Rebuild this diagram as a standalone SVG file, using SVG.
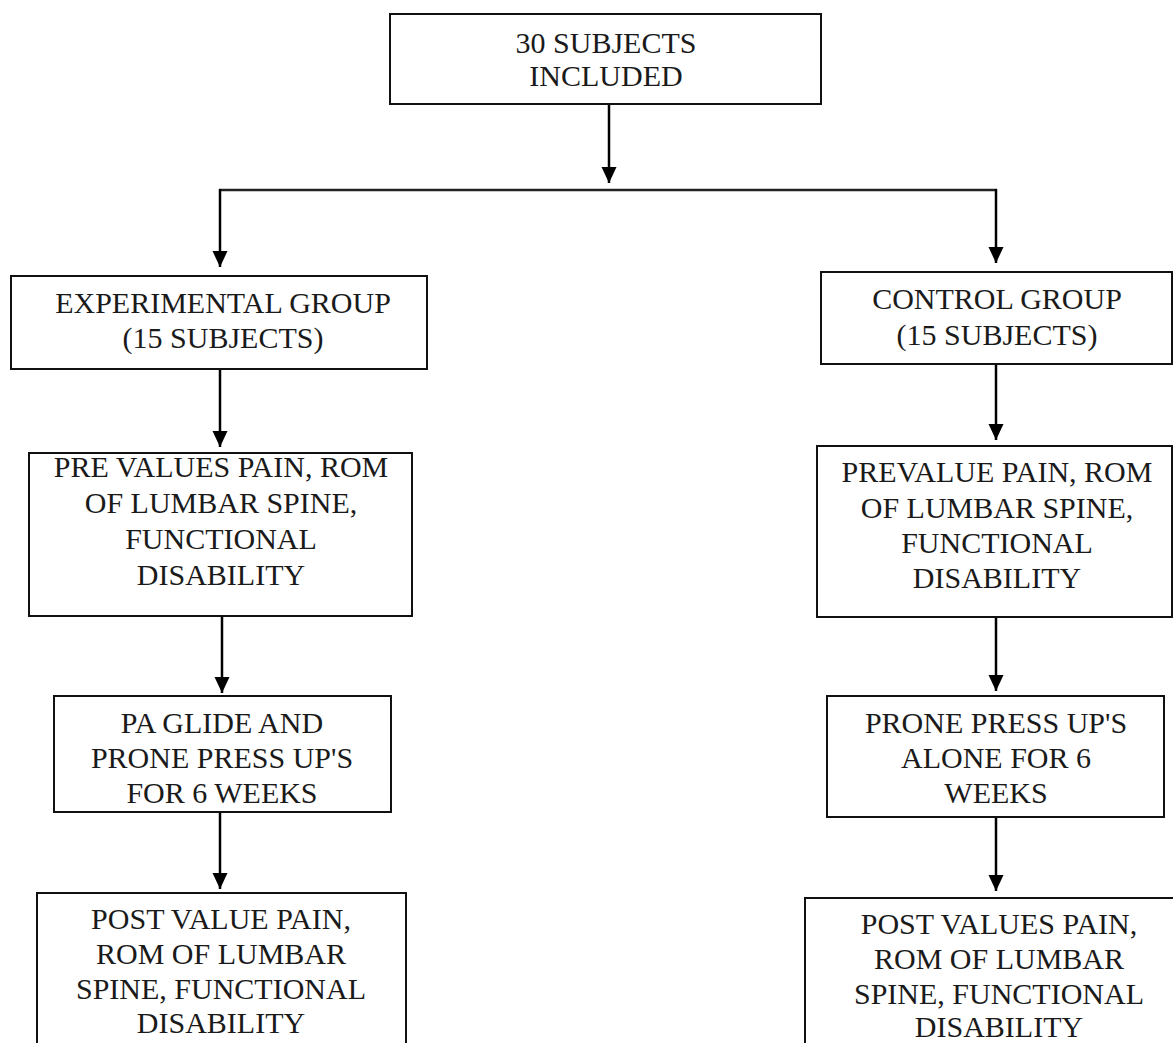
<svg xmlns="http://www.w3.org/2000/svg" width="1173" height="1043" viewBox="0 0 1173 1043">
<style>
.box{fill:#fff;stroke:#111;stroke-width:2}
.t{font-family:"Liberation Serif","Times New Roman",serif;font-size:30px;fill:#1a1a1a;text-anchor:middle}
.c{stroke:#000;stroke-width:2.5;fill:none}
</style>
<defs>
<marker id="ah" viewBox="0 0 16 16" refX="16" refY="8" markerWidth="16" markerHeight="16" markerUnits="userSpaceOnUse" orient="auto">
<path d="M0,0.5 L16,8 L0,15.5 Z" fill="#000"/>
</marker>
</defs>
<rect width="1173" height="1043" fill="#fff"/>
<g id="connectors">
<line class="c" x1="609" y1="104" x2="609" y2="183" marker-end="url(#ah)"/>
<line x1="219" y1="190" x2="997" y2="190" stroke="#222" stroke-width="2.5"/>
<line class="c" x1="220" y1="189" x2="220" y2="267" marker-end="url(#ah)"/>
<line class="c" x1="996" y1="189" x2="996" y2="263" marker-end="url(#ah)"/>
<line class="c" x1="220" y1="369" x2="220" y2="447" marker-end="url(#ah)"/>
<line class="c" x1="996" y1="364" x2="996" y2="440" marker-end="url(#ah)"/>
<line class="c" x1="222" y1="616" x2="222" y2="693" marker-end="url(#ah)"/>
<line class="c" x1="220" y1="812" x2="220" y2="889" marker-end="url(#ah)"/>
<line class="c" x1="996" y1="616" x2="996" y2="691" marker-end="url(#ah)"/>
<line class="c" x1="996" y1="817" x2="996" y2="891" marker-end="url(#ah)"/>
</g>
<g id="n-top">
<rect class="box" x="390" y="14" width="431" height="90"/>
<text class="t" x="606" y="53">30 SUBJECTS</text>
<text class="t" x="606" y="86">INCLUDED</text>
</g>
<g id="n-exp">
<rect class="box" x="11" y="276" width="416" height="93"/>
<text class="t" x="223" y="313">EXPERIMENTAL GROUP</text>
<text class="t" x="223" y="348">(15 SUBJECTS)</text>
</g>
<g id="n-ctrl">
<rect class="box" x="821" y="272" width="351" height="92"/>
<text class="t" x="997" y="309">CONTROL GROUP</text>
<text class="t" x="997" y="345">(15 SUBJECTS)</text>
</g>
<g id="n-pre-exp">
<rect class="box" x="29" y="453" width="383" height="163"/>
<text class="t" x="221" y="477">PRE VALUES PAIN, ROM</text>
<text class="t" x="221" y="513">OF LUMBAR SPINE,</text>
<text class="t" x="221" y="549">FUNCTIONAL</text>
<text class="t" x="221" y="585">DISABILITY</text>
</g>
<g id="n-pre-ctrl">
<rect class="box" x="817" y="446" width="355" height="171"/>
<text class="t" x="997" y="482">PREVALUE PAIN, ROM</text>
<text class="t" x="997" y="518">OF LUMBAR SPINE,</text>
<text class="t" x="997" y="553">FUNCTIONAL</text>
<text class="t" x="997" y="588">DISABILITY</text>
</g>
<g id="n-pa">
<rect class="box" x="54" y="696" width="337" height="116"/>
<text class="t" x="222" y="733">PA GLIDE AND</text>
<text class="t" x="222" y="768">PRONE PRESS UP'S</text>
<text class="t" x="222" y="803">FOR 6 WEEKS</text>
</g>
<g id="n-prone">
<rect class="box" x="827" y="696" width="337" height="121"/>
<text class="t" x="996" y="733">PRONE PRESS UP'S</text>
<text class="t" x="996" y="768">ALONE FOR 6</text>
<text class="t" x="996" y="803">WEEKS</text>
</g>
<g id="n-post-exp">
<rect class="box" x="37" y="893" width="369" height="170"/>
<text class="t" x="221" y="929">POST VALUE PAIN,</text>
<text class="t" x="221" y="964">ROM OF LUMBAR</text>
<text class="t" x="221" y="999">SPINE, FUNCTIONAL</text>
<text class="t" x="221" y="1033">DISABILITY</text>
</g>
<g id="n-post-ctrl">
<rect class="box" x="805" y="898" width="390" height="170"/>
<text class="t" x="999" y="934">POST VALUES PAIN,</text>
<text class="t" x="999" y="969">ROM OF LUMBAR</text>
<text class="t" x="999" y="1004">SPINE, FUNCTIONAL</text>
<text class="t" x="999" y="1037">DISABILITY</text>
</g>
</svg>
